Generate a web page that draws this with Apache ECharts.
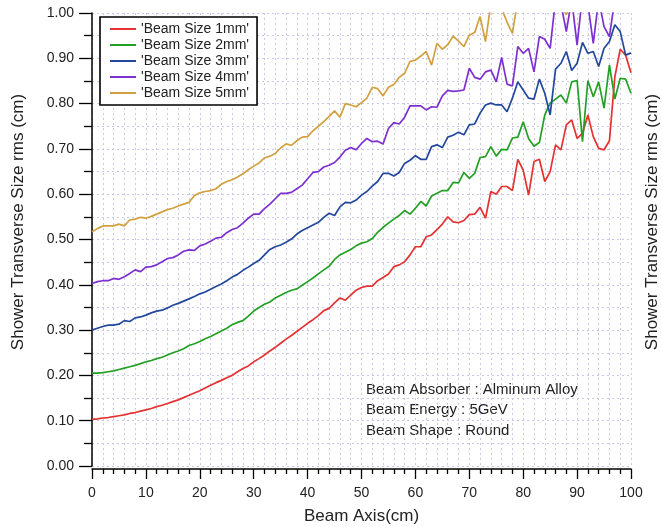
<!DOCTYPE html>
<html>
<head>
<meta charset="utf-8">
<script src="https://cdn.jsdelivr.net/npm/echarts@6/dist/echarts.min.js"></script>
<style>html,body{margin:0;padding:0;background:#fff;}#c{width:662px;height:527px;}</style>
</head>
<body>
<div id="c"></div>
<script>
var beamAxis = Array.from({length: 101}, function (_, i) { return i; });
var seriesNames = ["'Beam Size 1mm'", "'Beam Size 2mm'", "'Beam Size 3mm'", "'Beam Size 4mm'", "'Beam Size 5mm'"];
var beam1mm = [0.103,0.104,0.106,0.107,0.109,0.111,0.113,0.116,0.118,0.121,
 0.124,0.127,0.131,0.134,0.138,0.142,0.146,0.151,0.156,0.161,
 0.166,0.172,0.178,0.184,0.189,0.195,0.200,0.208,0.215,0.221,
 0.230,0.237,0.245,0.254,0.262,0.271,0.280,0.288,0.297,0.306,
 0.315,0.323,0.332,0.343,0.348,0.360,0.371,0.366,0.377,0.388,
 0.394,0.397,0.397,0.409,0.416,0.424,0.440,0.444,0.451,0.466,
 0.484,0.484,0.506,0.510,0.522,0.534,0.550,0.539,0.537,0.542,
 0.555,0.556,0.571,0.547,0.606,0.600,0.617,0.617,0.608,0.677,
 0.653,0.598,0.672,0.677,0.628,0.650,0.709,0.698,0.753,0.764,
 0.723,0.734,0.775,0.727,0.701,0.698,0.718,0.859,0.920,0.907,
 0.868];
var beam2mm = [0.205,0.205,0.206,0.208,0.210,0.213,0.216,0.219,0.222,0.226,
 0.230,0.233,0.237,0.240,0.245,0.250,0.254,0.259,0.266,0.270,
 0.275,0.281,0.286,0.292,0.298,0.304,0.312,0.317,0.321,0.331,
 0.342,0.350,0.357,0.362,0.371,0.377,0.383,0.388,0.391,0.399,
 0.407,0.415,0.424,0.433,0.441,0.456,0.466,0.472,0.478,0.486,
 0.492,0.495,0.502,0.516,0.527,0.536,0.545,0.553,0.564,0.556,
 0.569,0.584,0.574,0.596,0.602,0.608,0.608,0.626,0.625,0.648,
 0.635,0.646,0.681,0.683,0.705,0.684,0.699,0.698,0.724,0.726,
 0.760,0.723,0.706,0.714,0.775,0.801,0.810,0.819,0.801,0.848,
 0.851,0.716,0.851,0.815,0.848,0.790,0.885,0.810,0.856,0.854,
 0.823];
var beam3mm = [0.300,0.304,0.308,0.311,0.311,0.313,0.321,0.319,0.327,0.329,
 0.333,0.338,0.342,0.344,0.349,0.355,0.359,0.364,0.369,0.374,
 0.380,0.384,0.390,0.396,0.402,0.409,0.417,0.423,0.432,0.439,
 0.447,0.454,0.466,0.478,0.484,0.488,0.494,0.501,0.512,0.520,
 0.526,0.532,0.538,0.549,0.558,0.553,0.572,0.582,0.581,0.587,
 0.598,0.606,0.618,0.628,0.646,0.646,0.640,0.648,0.668,0.675,
 0.685,0.677,0.677,0.705,0.709,0.703,0.726,0.730,0.737,0.731,
 0.753,0.755,0.779,0.797,0.801,0.797,0.797,0.782,0.812,0.848,
 0.830,0.812,0.810,0.854,0.823,0.775,0.876,0.889,0.915,0.873,
 0.889,0.935,0.911,0.915,0.882,0.922,0.937,0.974,0.959,0.907,
 0.912];
var beam4mm = [0.403,0.407,0.409,0.409,0.414,0.412,0.418,0.425,0.433,0.429,
 0.439,0.440,0.444,0.451,0.458,0.460,0.466,0.474,0.477,0.476,
 0.486,0.490,0.496,0.503,0.505,0.515,0.522,0.526,0.536,0.547,
 0.556,0.556,0.568,0.578,0.590,0.602,0.602,0.604,0.612,0.620,
 0.634,0.648,0.650,0.660,0.664,0.670,0.682,0.697,0.703,0.698,
 0.712,0.723,0.716,0.717,0.711,0.745,0.758,0.755,0.770,0.795,
 0.795,0.795,0.786,0.793,0.792,0.817,0.829,0.827,0.828,0.830,
 0.878,0.858,0.854,0.870,0.874,0.848,0.902,0.843,0.839,0.926,
 0.911,0.922,0.870,0.948,0.942,0.922,1.030,1.020,0.959,1.030,
 0.929,1.040,1.020,0.933,1.030,0.970,0.948,1.030,1.050,1.060,
 1.070];
var beam5mm = [0.517,0.524,0.530,0.530,0.530,0.534,0.530,0.543,0.545,0.549,
 0.547,0.551,0.556,0.561,0.566,0.569,0.574,0.578,0.582,0.597,
 0.603,0.606,0.608,0.612,0.622,0.628,0.632,0.638,0.645,0.654,
 0.662,0.669,0.680,0.684,0.690,0.702,0.711,0.708,0.718,0.726,
 0.727,0.740,0.750,0.760,0.772,0.784,0.770,0.800,0.797,0.793,
 0.802,0.812,0.836,0.833,0.817,0.836,0.842,0.858,0.867,0.893,
 0.896,0.905,0.915,0.885,0.933,0.920,0.930,0.949,0.938,0.926,
 0.951,0.957,0.992,0.937,1.020,1.040,1.010,0.980,0.955,1.030,
 1.060,1.080,1.070,1.090,1.080,1.100,1.050,1.020,0.996,1.030,
 1.080,1.100,1.110,1.090,1.120,1.110,1.130,1.120,1.140,1.130,
 1.150];
var yTicks = [0, 0.1, 0.2, 0.3, 0.4, 0.5, 0.6, 0.7, 0.8, 0.9, 1.0];
var xTicks = [0, 10, 20, 30, 40, 50, 60, 70, 80, 90, 100];
var notes = ['Beam Absorber : Alminum Alloy', 'Beam Energy : 5GeV', 'Beam Shape : Round'];
var colors = ['#e53131', '#23a023', '#23479c', '#7d2fd0', '#d2a03e'];

var allValues = [beam1mm, beam2mm, beam3mm, beam4mm, beam5mm];
var FONT = 'Liberation Sans, Arial, sans-serif';
var gridLine = {type: [2, 3], color: '#c8c8ea', width: 1};

var chart = echarts.init(document.getElementById('c'), null, {renderer: 'canvas'});
var series = allValues.map(function (vals, k) {
  return {
    name: seriesNames[k],
    type: 'line',
    data: beamAxis.map(function (x, i) { return [x, vals[i]]; }),
    showSymbol: false,
    symbol: 'none',
    clip: true,
    lineStyle: {color: colors[k], width: 1.7},
    itemStyle: {color: colors[k]},
    animation: false
  };
});

chart.setOption({
  animation: false,
  textStyle: {fontFamily: FONT},
  grid: {left: 92, right: 31, top: 13, bottom: 61, containLabel: false, outerBoundsMode: 'none'},
  xAxis: {
    type: 'value', min: xTicks[0], max: xTicks[xTicks.length - 1], interval: 10,
    offset: 3,
    axisLine: {onZero: false, lineStyle: {color: '#000', width: 1.5}},
    axisTick: {length: 10, lineStyle: {color: '#000', width: 1.3}},
    minorTick: {show: true, splitNumber: 5, length: 5, lineStyle: {color: '#000', width: 1.3}},
    axisLabel: {fontSize: 14, color: '#222', margin: 17, fontFamily: FONT},
    splitLine: {show: true, lineStyle: gridLine},
    minorSplitLine: {show: true, lineStyle: gridLine},
    name: 'Beam Axis(cm)', nameLocation: 'middle', nameGap: 39,
    nameTextStyle: {fontSize: 17, color: '#222', fontFamily: FONT}
  },
  yAxis: {
    type: 'value', min: yTicks[0], max: yTicks[yTicks.length - 1], interval: 0.1,
    axisLine: {show: true, lineStyle: {color: '#000', width: 1.5}},
    axisTick: {show: true, length: 13, lineStyle: {color: '#000', width: 1.3}},
    minorTick: {show: true, splitNumber: 2, length: 8, lineStyle: {color: '#000', width: 1.3}},
    axisLabel: {fontSize: 14, color: '#222', margin: 18, fontFamily: FONT,
      formatter: function (v) { return v.toFixed(2); }},
    splitLine: {show: true, lineStyle: gridLine},
    minorSplitLine: {show: true, lineStyle: gridLine}
  },
  legend: {
    orient: 'vertical', left: 100, top: 17,
    data: seriesNames,
    icon: 'rect', itemWidth: 26, itemHeight: 2, itemGap: 2,
    padding: [5, 8, 5, 10],
    backgroundColor: '#fff', borderColor: '#000', borderWidth: 1.6,
    textStyle: {fontSize: 14, color: '#222', fontFamily: FONT, lineHeight: 14}
  },
  graphic: [
    {type: 'text', left: 366, top: 382, style: {text: notes[0], fontSize: 15, fill: '#222', font: '15px ' + FONT}},
    {type: 'text', left: 366, top: 402, style: {text: notes[1], fontSize: 15, fill: '#222', font: '15px ' + FONT}},
    {type: 'text', left: 366, top: 423, style: {text: notes[2], fontSize: 15, fill: '#222', font: '15px ' + FONT}},
    {type: 'text', x: 18, y: 222, rotation: Math.PI / 2,
      style: {text: 'Shower Transverse Size rms (cm)', font: '17px ' + FONT, fill: '#222', align: 'center', verticalAlign: 'middle'}},
    {type: 'text', x: 652, y: 222, rotation: Math.PI / 2,
      style: {text: 'Shower Transverse Size rms (cm)', font: '17px ' + FONT, fill: '#222', align: 'center', verticalAlign: 'middle'}}
  ],
  series: series
});
</script>
</body>
</html>
